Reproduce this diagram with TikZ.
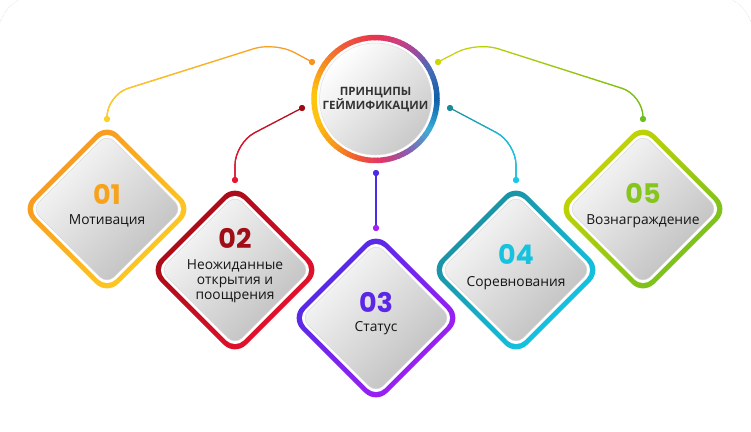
\documentclass[tikz,border=0pt]{standalone}
\usepackage{fontspec}
\setmainfont{Open Sans}
\newfontfamily\numfont{Poppins}
\usetikzlibrary{fadings}
% ring colours
\definecolor{rA}{HTML}{1160AA}\definecolor{rB}{HTML}{4A6CB8}\definecolor{rC}{HTML}{9A4AA0}
\definecolor{rD}{HTML}{D23C7E}\definecolor{rE}{HTML}{E8334E}\definecolor{rF}{HTML}{F0583A}
\definecolor{rG}{HTML}{F58A22}\definecolor{rH}{HTML}{FFC40C}\definecolor{rI}{HTML}{FFC20E}
\definecolor{rJ}{HTML}{F7941D}\definecolor{rK}{HTML}{EE5535}\definecolor{rL}{HTML}{E0356A}
\definecolor{rM}{HTML}{8E5AAE}\definecolor{rN}{HTML}{3BAFD6}\definecolor{rO}{HTML}{1A78B8}
% item colours
\definecolor{oA}{HTML}{F7931E}\definecolor{oB}{HTML}{FDD023}\definecolor{oN}{HTML}{F7A21B}
\definecolor{dA}{HTML}{A00A14}\definecolor{dB}{HTML}{EC1230}\definecolor{dN}{HTML}{A00D16}
\definecolor{pA}{HTML}{4B2BE6}\definecolor{pB}{HTML}{A81EF5}\definecolor{pN}{HTML}{5B26E6}
\definecolor{cA}{HTML}{1B8A9B}\definecolor{cB}{HTML}{12CBEA}\definecolor{cN}{HTML}{16C3DE}
\definecolor{gA}{HTML}{CDD600}\definecolor{gB}{HTML}{6FBE1F}\definecolor{gN}{HTML}{86C41E}
\definecolor{titlecol}{HTML}{333333}
\definecolor{lblcol}{HTML}{151515}
\definecolor{fillhi}{HTML}{FAFAFA}
\definecolor{fillmid}{HTML}{EFEFEF}
\definecolor{filllo}{HTML}{BDBDBD}
\tikzfading[name=fadeleft, left color=transparent!0, right color=transparent!100]
\newcommand\gemdiamond[3]{% centre x, centre y, colour prefix
  \shade[top color=#3A, bottom color=#3B, shading angle=45, rounded corners=16]
    (#1,#2-86) -- (#1+86,#2) -- (#1,#2+86) -- (#1-86,#2) -- cycle;
  \fill[white, rounded corners=12]
    (#1,#2-79) -- (#1+79,#2) -- (#1,#2+79) -- (#1-79,#2) -- cycle;
  \shade[top color=fillhi, middle color=fillmid, bottom color=filllo, shading angle=45,
         rounded corners=10, draw=gray!30, line width=0.5pt]
    (#1,#2-75) -- (#1+75,#2) -- (#1,#2+75) -- (#1-75,#2) -- cycle;
}
\tikzset{
  dot/.style={circle, inner sep=0pt, minimum size=6pt},
  conn/.style={line width=1.2pt, rounded corners=22pt},
  num/.style={font=\numfont\bfseries\fontsize{27}{27}\selectfont, inner sep=0pt},
  lbl/.style={font=\fontsize{13.8}{15}\selectfont, text=lblcol, align=center, inner sep=0pt},
}
\begin{document}
\begin{tikzpicture}[x=1pt, y=-1pt]
\useasboundingbox (0,0) rectangle (751,431);
\fill[white] (0,0) rectangle (751,431);
\begin{scope}
  \clip (0,0) rectangle (751,431);
  \draw[gray!35, line width=0.5pt, densely dotted, rounded corners=40pt] (-2,520) -- (-2,-5) -- (753,-5) -- (753,520);
\end{scope}

% centre circle
\coordinate (cc) at (375.5,99);
\fill[white] (cc) circle (64.5);
\foreach \a/\b/\ca/\cb in {0/30/rA/rB, 30/50/rB/rC, 50/70/rC/rD, 70/90/rD/rE, 90/120/rE/rF,
    120/145/rF/rG, 145/175/rG/rH, 175/200/rH/rI, 200/230/rI/rJ, 230/255/rJ/rK, 255/275/rK/rL,
    275/300/rL/rM, 300/330/rM/rN, 330/350/rN/rO, 350/360/rO/rA} {
  \foreach \t in {0,...,5} {
    \pgfmathsetmacro\sa{\a+(\b-\a)*\t/6}
    \pgfmathsetmacro\sb{\a+(\b-\a)*(\t+1)/6+0.7}
    \pgfmathtruncatemacro\p{(\t+0.5)/6*100}
    \draw[line width=5.5pt, \cb!\p!\ca] (cc) ++(-\sa:61.5) arc[start angle=-\sa, end angle=-\sb, radius=61.5];
  }
}
\shade[top color=white, middle color=fillmid, bottom color=gray!42, shading angle=45, draw=gray!25, line width=0.5pt] (cc) circle (56);
\node[align=center, font=\bfseries\fontsize{11.5}{14}\selectfont, text=titlecol, inner sep=0pt] (title) at (375.5,100) {ПРИНЦИПЫ\\ГЕЙМИФИКАЦИИ};

% diamonds
\gemdiamond{107}{209}{o}
\gemdiamond{235}{270}{d}
\gemdiamond{376}{318}{p}
\gemdiamond{516}{270}{c}
\gemdiamond{643}{209}{g}

% texts
\node[num, text=oN] (n1) at (107,194) {01};
\node[lbl] (t1) at (107,221) {Мотивация};
\node[num, text=dN] (n2) at (235,238) {02};
\node[lbl] (t2) at (235,281) {Неожиданные\\открытия и\\поощрения};
\node[num, text=pN] (n3) at (376,302) {03};
\node[lbl] (t3) at (376,328) {Статус};
\node[num, text=cN] (n4) at (516,254) {04};
\node[lbl] (t4) at (516,283) {Соревнования};
\node[num, text=gN] (n5) at (643,193) {05};
\node[lbl] (t5) at (643,221) {Вознаграждение};

% connector dots
\node[dot, fill=oA] (c1a) at (312,62) {};
\node[dot, fill=oB] (c1b) at (107,119) {};
\node[dot, fill=dA] (c2a) at (302,108) {};
\node[dot, fill=dB] (c2b) at (235,180) {};
\node[dot, fill=pA] (c3a) at (376,173) {};
\node[dot, fill=pB] (c3b) at (376,228) {};
\node[dot, fill=cA] (c4a) at (450,108) {};
\node[dot, fill=cB] (c4b) at (516,180) {};
\node[dot, fill=gA] (c5a) at (438,62) {};
\node[dot, fill=gB] (c5b) at (643,119) {};

% connectors (base colour + faded overlay for the gradient)
\draw[conn, oA] (c1a.center) -- (275,42) -- (107,95) -- (c1b.center);
\draw[conn, oB, path fading=fadeleft] (c1a.center) -- (275,42) -- (107,95) -- (c1b.center);
\draw[conn, dA] (c2a.center) -- (235,143) -- (c2b.center);
\draw[conn, dB, path fading=fadeleft] (c2a.center) -- (235,143) -- (c2b.center);
\draw[conn, pA] (c3a.center) -- (c3b.center);
\draw[conn, cA] (c4a.center) -- (516,143) -- (c4b.center);
\draw[conn, cB, path fading=fadeleft, fading transform={rotate=180}] (c4a.center) -- (516,143) -- (c4b.center);
\draw[conn, gA] (c5a.center) -- (477,42) -- (643,95) -- (c5b.center);
\draw[conn, gB, path fading=fadeleft, fading transform={rotate=180}] (c5a.center) -- (477,42) -- (643,95) -- (c5b.center);
% redraw dots on top
\foreach \d/\c in {c1a/oA, c1b/oB, c2a/dA, c2b/dB, c3a/pA, c3b/pB, c4a/cA, c4b/cB, c5a/gA, c5b/gB}
  \fill[\c] (\d) circle (3);
\end{tikzpicture}
\end{document}
